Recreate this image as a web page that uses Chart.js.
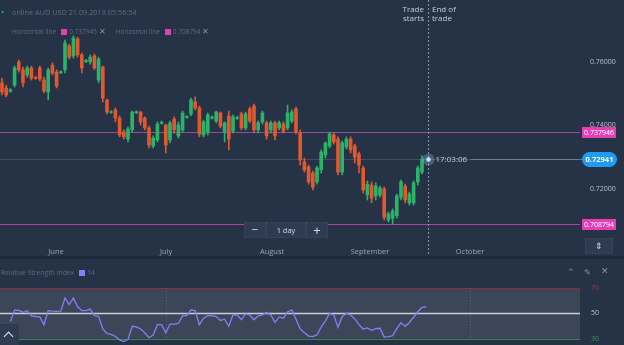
<!DOCTYPE html>
<html><head><meta charset="utf-8">
<script src="https://cdn.jsdelivr.net/npm/chart.js@4.4.0/dist/chart.umd.min.js"></script>
<style>
html,body{margin:0;padding:0;background:#263246;width:624px;height:345px;overflow:hidden;font-family:"Open Sans",sans-serif;}
canvas{position:absolute;left:0;}
#main{top:0;}
#rsi{top:258px;}
.t{position:absolute;white-space:nowrap;font-size:8px;line-height:9px;}
.sq{display:inline-block;width:6px;height:6px;vertical-align:-0.5px;margin:0 2px 0 5px;}
.btn{position:absolute;background:#2f3b50;border:1px dotted #3d4a5e;box-sizing:border-box;color:#d8dde3;text-align:center;}
#sep{position:absolute;left:0;top:256px;width:624px;height:3px;background:#1e2838;}
</style></head><body>
<canvas id="main" width="624" height="258"></canvas>
<div id="sep"></div>
<canvas id="rsi" width="624" height="87"></canvas>

<div class="t" style="left:1px;top:7px;color:#2db36b;font-size:9px;">•</div>
<div class="t" id="hdr" style="left:12px;top:8px;color:#5f6d82;font-size:7.3px;"></div>
<div class="t" id="leg" style="left:12px;top:26px;color:#5b6a80;font-size:6.5px;"></div>

<div class="t" style="left:396px;top:4px;width:28px;text-align:right;color:#c9ced6;">Trade<br>starts</div>
<div class="t" style="left:432px;top:4px;color:#c9ced6;">End of<br>trade</div>

<div class="btn" style="left:244px;top:222px;width:22px;height:16px;font-size:12px;line-height:14px;">−</div>
<div class="btn" style="left:266px;top:222px;width:40px;height:16px;font-size:7.5px;line-height:14px;">1 day</div>
<div class="btn" style="left:306px;top:222px;width:22px;height:16px;font-size:13px;line-height:14px;">+</div>
<div class="btn" style="left:585px;top:238px;width:28px;height:16px;font-size:9px;line-height:14px;">⇕</div>

<div class="t" id="rsileg" style="left:1px;top:268px;color:#5b6a80;font-size:6.8px;"></div>
<div class="t" style="left:567px;top:267px;color:#8793a4;font-size:9px;">⌃</div>
<div class="t" style="left:584px;top:267px;color:#8793a4;font-size:8px;">✎</div>
<div class="t" style="left:601px;top:266px;color:#8793a4;font-size:9px;">✕</div>
<div style="position:absolute;left:0;top:324px;width:19px;height:21px;background:#2f3b50;border-radius:0 3px 0 0;"></div>
<div style="position:absolute;left:5px;top:333px;width:6px;height:6px;border-left:1.5px solid #e6e9ee;border-top:1.5px solid #e6e9ee;transform:rotate(45deg);"></div>

<script>
// ---------- data ----------
const openP  = [.7534,.7518,.7508,.7527,.7600,.7575,.7559,.7581,.7551,.7581,.7543,.7505,.7590,.7568,.7566,.7575,.7650,.7619,.7672,.7622,
                .7601,.7600,.7619,.7543,.7584,.7480,.7441,.7449,.7423,.7379,.7357,.7386,.7440,.7442,.7423,.7392,.7335,.7354,.7407,.7401,
                .7354,.7420,.7367,.7386,.7425,.7436,.7474,.7455,.7370,.7379,.7423,.7414,.7439,.7379,.7430,.7382,.7422,.7436,.7392,.7452,
                .7461,.7386,.7411,.7408,.7386,.7408,.7392,.7404,.7392,.7414,.7452,.7376,.7285,.7269,.7250,.7222,.7260,.7307,.7335,.7370,
                .7357,.7253,.7332,.7357,.7335,.7310,.7266,.7181,.7212,.7178,.7181,.7200,.7102,.7108,.7115,.7174,.7209,.7156,.7156,.7222,.7253];
const highP  = [.7549,.7527,.7516,.7587,.7606,.7584,.7587,.7587,.7555,.7587,.7552,.7581,.7597,.7575,.7572,.7669,.7656,.7682,.7678,.7628,
                .7608,.7622,.7625,.7615,.7587,.7483,.7446,.7455,.7430,.7386,.7395,.7445,.7446,.7445,.7427,.7398,.7367,.7411,.7414,.7404,
                .7414,.7427,.7411,.7445,.7431,.7486,.7490,.7461,.7417,.7439,.7430,.7445,.7442,.7411,.7445,.7433,.7429,.7442,.7442,.7458,
                .7467,.7414,.7445,.7414,.7414,.7414,.7414,.7411,.7464,.7449,.7458,.7386,.7297,.7275,.7256,.7272,.7323,.7348,.7379,.7376,
                .7364,.7351,.7364,.7364,.7341,.7316,.7272,.7225,.7222,.7219,.7209,.7206,.7127,.7137,.7184,.7228,.7215,.7190,.7225,.7272,.7304];
const lowP   = [.7496,.7490,.7504,.7521,.7568,.7521,.7552,.7543,.7545,.7540,.7502,.7480,.7559,.7518,.7563,.7565,.7609,.7612,.7615,.7565,
                .7598,.7593,.7575,.7534,.7474,.7436,.7438,.7411,.7364,.7357,.7348,.7379,.7437,.7401,.7386,.7329,.7329,.7348,.7404,.7313,
                .7345,.7376,.7360,.7379,.7422,.7430,.7449,.7364,.7364,.7370,.7420,.7408,.7392,.7348,.7323,.7376,.7419,.7386,.7386,.7408,
                .7376,.7376,.7404,.7357,.7376,.7354,.7386,.7376,.7386,.7408,.7373,.7275,.7253,.7215,.7197,.7215,.7250,.7297,.7329,.7341,
                .7244,.7244,.7326,.7313,.7282,.7250,.7187,.7165,.7156,.7165,.7174,.7102,.7096,.7089,.7108,.7165,.7156,.7149,.7149,.7212,.7247];
const closeP = [.7505,.7496,.7512,.7581,.7575,.7534,.7581,.7549,.7548,.7546,.7508,.7575,.7565,.7524,.7569,.7660,.7615,.7675,.7622,.7581,
                .7604,.7615,.7581,.7609,.7486,.7442,.7443,.7423,.7370,.7364,.7389,.7442,.7443,.7411,.7392,.7338,.7360,.7404,.7410,.7338,
                .7408,.7386,.7401,.7439,.7428,.7480,.7455,.7373,.7411,.7433,.7426,.7442,.7398,.7408,.7357,.7427,.7425,.7392,.7436,.7414,
                .7386,.7408,.7439,.7367,.7408,.7367,.7408,.7382,.7439,.7442,.7379,.7291,.7260,.7222,.7206,.7266,.7316,.7345,.7373,.7348,
                .7253,.7345,.7357,.7323,.7300,.7275,.7197,.7215,.7171,.7209,.7203,.7111,.7121,.7130,.7178,.7222,.7165,.7184,.7219,.7266,.72941];
const rsiValues = [null,null,43.7,52.7,52.5,50.9,52.2,48.1,47.6,47.3,41.1,52.2,51.9,51.7,51.9,62.3,57.1,62.3,55.3,52.2,
                   52.2,53.5,48.3,47.8,37.7,34.1,33.4,31.8,29.0,27.7,29.5,39.8,39.3,37.7,34.7,30.8,32.8,41.1,41.1,34.7,
                   41.6,41.6,42.1,48.3,48.3,52.7,52.2,41.1,46.3,48.3,48.3,47.6,44.5,45.5,39.8,48.8,48.8,45.0,49.6,48.8,
                   45.0,48.1,48.8,50.9,48.8,42.9,47.3,46.3,51.4,52.7,45.5,37.7,34.7,32.1,31.6,33.1,39.3,44.2,50.1,48.8,
                   39.0,47.6,50.1,48.8,45.7,41.1,37.5,38.5,36.7,38.0,38.3,31.3,31.6,32.3,38.0,42.6,39.8,42.9,47.0,51.4,54.8,55.3];
const monthLabels = ['June','July','August','September','October'];
const monthDays   = [12.86, 39.05, 64.29, 87.62, 111.43];
const priceTicks  = [0.76, 0.74, 0.72];
const horizontalLines = [0.737946, 0.708794];
const currentPrice = 0.72941;
const currentTime = '17:03:06';
const tradeDay = 101.43;
const rsiLevels = [70, 50, 30];
const rsiPeriod = 14;
const headerText = 'online AUD USD 21.09.2018 05:56:54';

// ---------- look ----------
const GREEN = '#2bb36a', RED = '#e2582f';
const XMIN = -0.476, XMAX = 137.62;
const FONT = 'Open Sans';

document.getElementById('hdr').textContent = headerText;
document.getElementById('leg').innerHTML = horizontalLines.map(v =>
  'Horizontal line<span class="sq" style="background:#e040b0"></span>' + v.toFixed(6) +
  ' <span style="color:#8793a4;font-size:8px">✕</span>').join('&nbsp;&nbsp;&nbsp;&nbsp;&nbsp;&nbsp;');
document.getElementById('rsileg').innerHTML = 'Relative Strength Index<span class="sq" style="background:#8b7cf6"></span>' + rsiPeriod;

const colors = openP.map((o, i) => closeP[i] >= o ? GREEN : RED);
const bodies = openP.map((o, i) => ({x: i, y: [o, closeP[i]]}));
const wicks  = lowP.map((l, i) => ({x: i, y: [l, highP[i]]}));

function noPad(s) { s.paddingTop = 0; s.paddingBottom = 0; s.paddingLeft = 0; s.paddingRight = 0; }

function roundRect(ctx, x, y, w, h, r) {
  ctx.beginPath();
  ctx.moveTo(x + r, y); ctx.lineTo(x + w - r, y); ctx.arcTo(x + w, y, x + w, y + r, r);
  ctx.lineTo(x + w, y + h - r); ctx.arcTo(x + w, y + h, x + w - r, y + h, r);
  ctx.lineTo(x + r, y + h); ctx.arcTo(x, y + h, x, y + h - r, r);
  ctx.lineTo(x, y + r); ctx.arcTo(x, y, x + r, y, r); ctx.closePath();
}

const mainOverlay = {
  id: 'mainOverlay',
  beforeDatasetsDraw(chart) {
    const {ctx, chartArea: a, scales: {x, y}} = chart;
    ctx.save();
    const cy = Math.round(y.getPixelForValue(currentPrice)) + 0.5;
    ctx.strokeStyle = '#434f60'; ctx.lineWidth = 1;
    ctx.beginPath(); ctx.moveTo(a.left, cy); ctx.lineTo(a.right, cy); ctx.stroke();
    horizontalLines.forEach((v, i) => {
      const py = Math.round(y.getPixelForValue(v)) + 0.5;
      ctx.strokeStyle = i === 0 ? '#8f4f9c' : '#b13fae';
      ctx.beginPath(); ctx.moveTo(a.left, py); ctx.lineTo(a.right, py); ctx.stroke();
    });
    ctx.restore();
  },
  afterDraw(chart) {
    const {ctx, chartArea: a, scales: {x, y}} = chart;
    ctx.save();
    const tx = Math.round(x.getPixelForValue(tradeDay)) + 0.5;
    const cy = Math.round(y.getPixelForValue(currentPrice)) + 0.5;
    ctx.strokeStyle = '#8c96a3'; ctx.lineWidth = 1; ctx.setLineDash([2, 2]);
    ctx.beginPath(); ctx.moveTo(tx, 0); ctx.lineTo(tx, 258); ctx.stroke();
    ctx.setLineDash([]);
    ctx.strokeStyle = '#6f7a8a';
    ctx.beginPath(); ctx.moveTo(tx + 42, cy); ctx.lineTo(a.right + 2, cy); ctx.stroke();
    ctx.fillStyle = 'rgba(150,180,215,0.35)';
    ctx.beginPath(); ctx.arc(tx, cy, 6, 0, Math.PI * 2); ctx.fill();
    ctx.fillStyle = '#b5e6ff';
    ctx.beginPath(); ctx.arc(tx, cy, 2.3, 0, Math.PI * 2); ctx.fill();
    ctx.font = '8px "' + FONT + '"'; ctx.fillStyle = '#c9ced6';
    ctx.textAlign = 'left'; ctx.textBaseline = 'middle';
    ctx.fillText(currentTime, tx + 7, cy);
    horizontalLines.forEach(v => {
      const py = Math.round(y.getPixelForValue(v));
      ctx.fillStyle = '#e33fb7';
      ctx.fillRect(a.right + 2, py - 5, 34, 11);
      ctx.fillStyle = '#ffffff'; ctx.textAlign = 'center';
      ctx.font = '7px "' + FONT + '"';
      ctx.fillText(v.toFixed(6), a.right + 19, py + 0.5);
    });
    ctx.fillStyle = '#1f9cf0';
    roundRect(ctx, a.right + 2, cy - 7.5, 35, 15, 7.5); ctx.fill();
    ctx.fillStyle = '#ffffff'; ctx.font = 'bold 7.5px "' + FONT + '"'; ctx.textAlign = 'center';
    ctx.fillText(currentPrice.toFixed(5), a.right + 19.5, cy + 0.5);
    ctx.restore();
  }
};

new Chart(document.getElementById('main'), {
  type: 'bar',
  data: { datasets: [
    { data: wicks,  backgroundColor: colors, barThickness: 1, grouped: false, order: 2 },
    { data: bodies, backgroundColor: colors, barThickness: 3, grouped: false, order: 1 }
  ]},
  options: {
    responsive: false, animation: false, layout: { padding: 0, autoPadding: false },
    plugins: { legend: { display: false }, tooltip: { enabled: false } },
    scales: {
      x: { type: 'linear', min: XMIN, max: XMAX, offset: false,
           grid: { display: false, drawTicks: false }, border: { display: false },
           afterBuildTicks: s => { s.ticks = monthDays.map(v => ({ value: v })); },
           ticks: { callback: (v, i) => monthLabels[i], color: '#9aa4b0', font: { size: 7.5, family: FONT },
                    padding: 5, maxRotation: 0, autoSkip: false },
           afterFit: s => { s.height = 16; noPad(s); } },
      y: { position: 'right', min: 0.70328, max: 0.7795,
           grid: { display: false, drawTicks: false }, border: { display: false },
           afterBuildTicks: s => { s.ticks = priceTicks.map(v => ({ value: v })); },
           ticks: { callback: v => Number(v).toFixed(5), color: '#b8c0cc', font: { size: 7, family: FONT }, padding: 10 },
           afterFit: s => { s.width = 44; noPad(s); } }
    }
  },
  plugins: [mainOverlay]
});

const rsiBand = {
  id: 'rsiBand',
  beforeDatasetsDraw(chart) {
    const {ctx, chartArea: a, scales: {x, y}} = chart;
    ctx.save();
    const y70 = y.getPixelForValue(rsiLevels[0]), y30 = y.getPixelForValue(rsiLevels[2]), y50 = y.getPixelForValue(rsiLevels[1]);
    ctx.fillStyle = '#3b4758';
    ctx.fillRect(a.left, y70, a.right - a.left, y30 - y70);
    ctx.strokeStyle = 'rgba(255,255,255,0.18)'; ctx.setLineDash([1, 2]); ctx.lineWidth = 1;
    [monthDays[1], monthDays[4]].forEach(d => {
      const px = Math.round(x.getPixelForValue(d)) + 0.5;
      ctx.beginPath(); ctx.moveTo(px, y70); ctx.lineTo(px, y30); ctx.stroke();
    });
    ctx.setLineDash([]);
    ctx.strokeStyle = '#8e2d3c'; ctx.beginPath(); ctx.moveTo(a.left, Math.round(y70) + 0.5); ctx.lineTo(a.right, Math.round(y70) + 0.5); ctx.stroke();
    ctx.strokeStyle = '#2c8e52'; ctx.beginPath(); ctx.moveTo(a.left, Math.round(y30) + 0.5); ctx.lineTo(a.right, Math.round(y30) + 0.5); ctx.stroke();
    ctx.strokeStyle = '#c9cdd3'; ctx.lineWidth = 1.5; ctx.beginPath(); ctx.moveTo(a.left, y50); ctx.lineTo(a.right, y50); ctx.stroke();
    ctx.restore();
  }
};

new Chart(document.getElementById('rsi'), {
  type: 'line',
  data: { datasets: [{ data: rsiValues.map((v, i) => ({ x: i, y: v })), borderColor: '#8b7cf6', borderWidth: 1.3,
                       pointRadius: 0, tension: 0, spanGaps: false, fill: false }] },
  options: {
    responsive: false, animation: false, layout: { padding: { top: 29, left: 0, right: 0, bottom: 0 }, autoPadding: false },
    plugins: { legend: { display: false }, tooltip: { enabled: false } },
    scales: {
      x: { type: 'linear', min: XMIN, max: XMAX, display: false },
      y: { position: 'right', min: 25, max: 71,
           grid: { display: false, drawTicks: false }, border: { display: false },
           afterBuildTicks: s => { s.ticks = rsiLevels.map(v => ({ value: v })); },
           ticks: { color: c => c.tick.value === 70 ? '#a23a40' : (c.tick.value === 30 ? '#2f9a58' : '#c0c6ce'),
                    font: { size: 7, family: FONT }, padding: 11 },
           afterFit: s => { s.width = 44; noPad(s); } }
    }
  },
  plugins: [rsiBand]
});
</script>
</body></html>
